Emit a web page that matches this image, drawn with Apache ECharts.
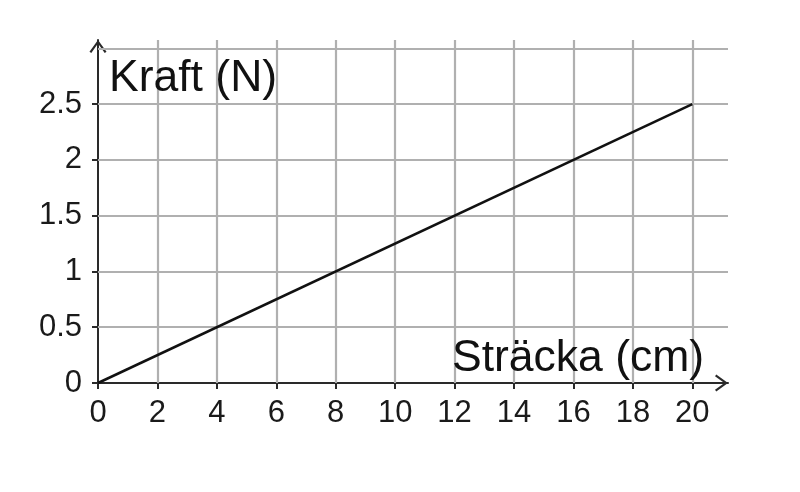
<!DOCTYPE html>
<html>
<head>
<meta charset="utf-8">
<script src="https://cdn.jsdelivr.net/npm/echarts@6/dist/echarts.min.js"></script>
<style>html,body{margin:0;padding:0;background:#fff;}#c{width:800px;height:492px;}</style>
</head>
<body>
<div id="c"></div>
<script>
// Data
const xTicks = [0, 2, 4, 6, 8, 10, 12, 14, 16, 18, 20];
const yTicks = [0, 0.5, 1, 1.5, 2, 2.5];
const yGrid = [0.5, 1, 1.5, 2, 2.5, 3];
const xGrid = [2, 4, 6, 8, 10, 12, 14, 16, 18, 20];
const lineX = [0, 20];
const lineY = [0, 2.5];
const xName = 'Sträcka (cm)';
const yName = 'Kraft (N)';

const X_MAX = 21.2;
const Y_MAX = 3.074;
const FONT = '"Liberation Sans", Arial, sans-serif';
const gridColor = '#b0b0b0';
const axisColor = '#2a2a2a';
const chevron = 'path://M0,11 L8,0 L16,11 L14.3,12.2 L8,3.4 L1.7,12.2 Z';

const gridLines = [];
xGrid.forEach(v => gridLines.push([{coord: [v, 0]}, {coord: [v, Y_MAX]}]));
yGrid.forEach(v => gridLines.push([{coord: [0, v]}, {coord: [X_MAX, v]}]));

const chart = echarts.init(document.getElementById('c'), null, {renderer: 'canvas'});
chart.setOption({
  animation: false,
  backgroundColor: '#fff',
  grid: {left: 98, right: 72, top: 40, bottom: 109, containLabel: false},
  xAxis: {
    type: 'value', min: 0, max: X_MAX,
    splitLine: {show: false},
    axisLine: {show: true, lineStyle: {color: axisColor, width: 2}, symbol: ['none', chevron], symbolSize: [18, 13], symbolOffset: [0, -6.5]},
    axisTick: {show: true, customValues: xTicks, length: 6, lineStyle: {color: axisColor, width: 2}},
    axisLabel: {customValues: xTicks, fontSize: 31, fontFamily: FONT, color: '#1a1a1a', margin: 15}
  },
  yAxis: {
    type: 'value', min: 0, max: Y_MAX,
    splitLine: {show: false},
    axisLine: {show: true, lineStyle: {color: axisColor, width: 2}, symbol: ['none', chevron], symbolSize: [20, 13], symbolOffset: [0, -6.5]},
    axisTick: {show: true, customValues: yTicks, length: 6, lineStyle: {color: axisColor, width: 2}},
    axisLabel: {customValues: yTicks, fontSize: 31, fontFamily: FONT, color: '#1a1a1a', margin: 16}
  },
  graphic: [
    {type: 'text', left: 109, top: 56, z: 100, style: {text: yName, fontSize: 44.5, fontFamily: FONT, fill: '#111'}},
    {type: 'text', left: 452, top: 336, z: 100, style: {text: xName, fontSize: 44.5, fontFamily: FONT, fill: '#111'}}
  ],
  series: [
    {
      type: 'line', data: [], z: 1, silent: true,
      markLine: {silent: true, symbol: 'none', label: {show: false}, animation: false,
        lineStyle: {color: gridColor, width: 2.2, type: 'solid'}, data: gridLines}
    },
    {
      type: 'line', z: 5, silent: true, showSymbol: false, symbol: 'none',
      lineStyle: {color: '#111', width: 2.5},
      data: lineX.map((x, i) => [x, lineY[i]])
    }
  ]
});
</script>
</body>
</html>
